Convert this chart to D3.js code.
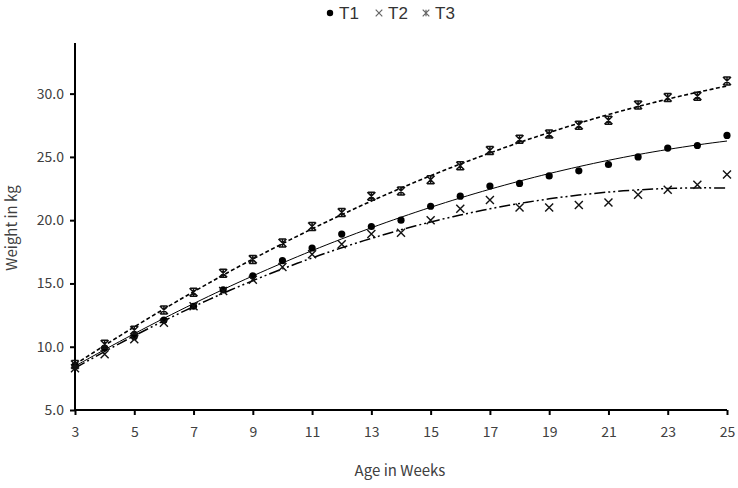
<!DOCTYPE html>
<html>
<head>
<meta charset="utf-8">
<script src="https://cdn.jsdelivr.net/npm/d3@7"></script>
<style>
  body { margin: 0; background: #fff; }
  text { font-family: "Noto Sans CJK KR", "Noto Sans", sans-serif; }
</style>
</head>
<body>
<svg id="chart" width="738" height="488"></svg>
<script>
// data
var weeks = [3, 4, 5, 6, 7, 8, 9, 10, 11, 12, 13, 14, 15, 16, 17, 18, 19, 20, 21, 22, 23, 24, 25];
var t1 = [8.5, 9.9, 10.8, 12.1, 13.2, 14.5, 15.6, 16.8, 17.8, 18.9, 19.5, 20.0, 21.1, 21.9, 22.7, 22.9, 23.5, 23.9, 24.4, 25.0, 25.7, 25.9, 26.7];
var t2 = [8.3, 9.4, 10.6, 11.9, 13.2, 14.4, 15.3, 16.3, 17.3, 18.1, 18.9, 19.0, 20.0, 20.9, 21.6, 21.0, 21.0, 21.2, 21.4, 22.0, 22.4, 22.8, 23.6];
var t3 = [8.6, 10.2, 11.3, 12.9, 14.3, 15.8, 16.9, 18.2, 19.5, 20.6, 21.9, 22.3, 23.2, 24.3, 25.5, 26.4, 26.8, 27.5, 27.9, 29.1, 29.7, 29.8, 31.0];
var yTicks = [5, 10, 15, 20, 25, 30];
var xTicks = [3, 5, 7, 9, 11, 13, 15, 17, 19, 21, 23, 25];

var svg = d3.select("#chart");
var x = d3.scaleLinear().domain([3, 25]).range([75, 727]);
var y = d3.scaleLinear().domain([5, 34]).range([410, 43]);

// quadratic least squares, like the excel polynomial trendline
function fitQuad(xs, ys){
  var s = [0,0,0,0,0], t = [0,0,0];
  xs.forEach(function(xv, i){
    for (var k = 0; k < 5; k++) s[k] += Math.pow(xv, k);
    for (var k2 = 0; k2 < 3; k2++) t[k2] += Math.pow(xv, k2) * ys[i];
  });
  var m = [[s[0],s[1],s[2],t[0]],[s[1],s[2],s[3],t[1]],[s[2],s[3],s[4],t[2]]];
  for (var i = 0; i < 3; i++){
    for (var r = i+1; r < 3; r++){
      var f = m[r][i] / m[i][i];
      for (var c = i; c < 4; c++) m[r][c] -= f * m[i][c];
    }
  }
  var b = [0,0,0];
  for (var i2 = 2; i2 >= 0; i2--){
    var sum = m[i2][3];
    for (var c2 = i2+1; c2 < 3; c2++) sum -= m[i2][c2] * b[c2];
    b[i2] = sum / m[i2][i2];
  }
  return function(v){ return b[0] + b[1]*v + b[2]*v*v; };
}

var series = [
  {name: "T1", vals: t1, dash: null, width: 1, marker: "dot"},
  {name: "T2", vals: t2, dash: "11,3,2,3,2,3", width: 1.5, marker: "x"},
  {name: "T3", vals: t3, dash: "4,2.5", width: 1.6, marker: "star"}
];

// axes
var yAxis = svg.append("g").attr("transform", "translate(75,0)")
  .call(d3.axisLeft(y).tickValues(yTicks).tickSize(5).tickPadding(6).tickFormat(d3.format(".1f")));
var xAxis = svg.append("g").attr("transform", "translate(0,410)")
  .call(d3.axisBottom(x).tickValues(xTicks).tickSize(5).tickPadding(12));
[yAxis, xAxis].forEach(function(a){
  a.select(".domain").attr("stroke", "#000").attr("stroke-width", 2);
  a.selectAll(".tick line").attr("stroke", "#000").attr("stroke-width", 2);
  a.selectAll(".tick text").attr("fill", "#404040").style("font-size", "14px");
});
yAxis.select(".domain").attr("d", "M0,43V410");
xAxis.select(".domain").attr("d", "M75,0H727");

svg.append("text").attr("x", 400).attr("y", 476).attr("text-anchor", "middle")
  .attr("fill", "#404040").style("font-size", "15px").text("Age in Weeks");
svg.append("text").attr("transform", "translate(17,228) rotate(-90)").attr("text-anchor", "middle")
  .attr("fill", "#404040").style("font-size", "15px").text("Weight in kg");

// trend lines
var line = d3.line().x(function(d){ return x(d[0]); }).y(function(d){ return y(d[1]); });
series.forEach(function(s){
  var f = fitQuad(weeks, s.vals);
  var pts = d3.range(3, 25.01, 0.25).map(function(v){ return [v, f(v)]; });
  svg.append("path").attr("d", line(pts)).attr("fill", "none")
    .attr("stroke", "#000").attr("stroke-width", s.width)
    .attr("stroke-dasharray", s.dash);
});

function drawMarker(g, type, cx, cy){
  if (type === "dot"){
    g.append("circle").attr("cx", cx).attr("cy", cy).attr("r", 3.6).attr("fill", "#000");
  } else if (type === "x"){
    var r = 4;
    g.append("path").attr("d", "M"+(cx-r)+","+(cy-r)+"L"+(cx+r)+","+(cy+r)+"M"+(cx+r)+","+(cy-r)+"L"+(cx-r)+","+(cy+r))
      .attr("stroke", "#111").attr("stroke-width", 1.4).attr("fill", "none");
  } else {
    var r2 = 4;
    g.append("path").attr("d", "M"+(cx-r2)+","+(cy-r2)+"L"+(cx+r2)+","+(cy+r2)+"M"+(cx+r2)+","+(cy-r2)+"L"+(cx-r2)+","+(cy+r2)
      +"M"+(cx-r2+0.5)+","+(cy-r2)+"H"+(cx+r2-0.5)+"M"+(cx-r2+0.5)+","+(cy+r2)+"H"+(cx+r2-0.5)+"M"+cx+","+(cy-r2)+"V"+(cy+r2))
      .attr("stroke", "#111").attr("stroke-width", 1.5).attr("fill", "none");
  }
}

series.forEach(function(s){
  var g = svg.append("g");
  s.vals.forEach(function(v, i){ drawMarker(g, s.marker, x(weeks[i]), y(v)); });
});

// legend
var legX = [330, 379, 426];
series.forEach(function(s, i){
  var g = svg.append("g");
  if (s.marker === "dot") g.append("circle").attr("cx", legX[i]).attr("cy", 13).attr("r", 3.2).attr("fill", "#000");
  else {
    var r = 3.3, cx = legX[i], cy = 13;
    g.append("path").attr("d", "M"+(cx-r)+","+(cy-r)+"L"+(cx+r)+","+(cy+r)+"M"+(cx+r)+","+(cy-r)+"L"+(cx-r)+","+(cy+r)
      + (s.marker === "star" ? "M"+cx+","+(cy-r)+"V"+(cy+r) : ""))
      .attr("stroke", "#666").attr("stroke-width", 1.2).attr("fill", "none");
  }
  g.append("text").attr("x", legX[i] + 9).attr("y", 19).attr("fill", "#333")
    .style("font-family", "'Liberation Sans', Arial, sans-serif")
    .style("font-size", "17px").text(s.name);
});
</script>
</body>
</html>
